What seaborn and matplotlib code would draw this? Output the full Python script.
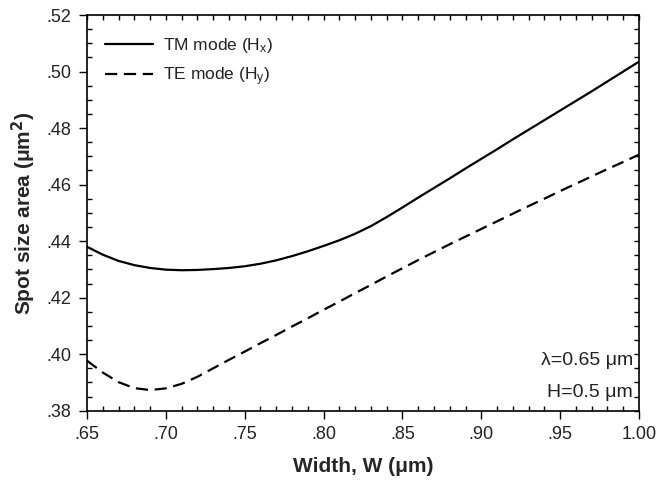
import numpy as np
import pandas as pd
import matplotlib
matplotlib.use("Agg")
import matplotlib.pyplot as plt
from matplotlib.ticker import MultipleLocator, FuncFormatter
import seaborn as sns

width = [0.65, 0.66, 0.67, 0.68, 0.69, 0.70, 0.71, 0.72, 0.73, 0.74, 0.75,
         0.76, 0.77, 0.78, 0.79, 0.80, 0.81, 0.82, 0.83, 0.84, 0.85,
         0.86, 0.87, 0.88, 0.89, 0.90, 0.91, 0.92, 0.93, 0.94, 0.95,
         0.96, 0.97, 0.98, 0.99, 1.00]
tm_mode = [0.4380, 0.4352, 0.4330, 0.4315, 0.4305, 0.4299, 0.4297, 0.4298, 0.4301, 0.4305, 0.4311,
           0.4320, 0.4332, 0.4347, 0.4364, 0.4383, 0.4403, 0.4426, 0.4453, 0.4485, 0.4519,
           0.4554, 0.4588, 0.4622, 0.4657, 0.4691, 0.4725, 0.4760, 0.4794, 0.4828, 0.4862,
           0.4896, 0.4930, 0.4965, 0.5000, 0.5035]
te_mode = [0.3977, 0.3935, 0.3901, 0.3880, 0.3873, 0.3879, 0.3895, 0.3920, 0.3950, 0.3980, 0.4009,
           0.4039, 0.4068, 0.4098, 0.4127, 0.4157, 0.4186, 0.4216, 0.4245, 0.4275, 0.4304,
           0.4333, 0.4361, 0.4389, 0.4416, 0.4443, 0.4470, 0.4497, 0.4524, 0.4550, 0.4577,
           0.4603, 0.4629, 0.4655, 0.4680, 0.4706]
labels = ["TM mode (H$_x$)", "TE mode (H$_y$)"]

sns.set_style("white")
plt.rcParams['font.family'] = ['Liberation Sans', 'DejaVu Sans']
plt.rcParams['mathtext.default'] = 'regular'

fig = plt.figure(figsize=(6.57, 4.88), dpi=100)
ax = fig.add_axes([87/657, 1-410.7/488, (639-87)/657, (410.7-15)/488])

sns.lineplot(x=width, y=tm_mode, ax=ax, color='black', lw=1.6, label=labels[0])
sns.lineplot(x=width, y=te_mode, ax=ax, color='black', lw=1.6, dashes=False,
             linestyle=(0, (5.5, 3)), label=labels[1])

ax.set_xlim(0.65, 1.00)
ax.set_ylim(0.38, 0.52)

def fmt(v, pos):
    s = f"{v:.2f}"
    return s[1:] if s.startswith("0") else s

ax.xaxis.set_major_locator(MultipleLocator(0.05))
ax.xaxis.set_minor_locator(MultipleLocator(0.01))
ax.yaxis.set_major_locator(MultipleLocator(0.02))
ax.yaxis.set_minor_locator(MultipleLocator(0.005))
ax.xaxis.set_major_formatter(FuncFormatter(fmt))
ax.yaxis.set_major_formatter(FuncFormatter(fmt))

ax.tick_params(which='major', direction='out', length=6, width=1, labelsize=13,
               color='black', labelcolor='#222222', pad=5, bottom=True, left=True)
ax.tick_params(which='minor', direction='in', length=3.5, width=1, color='black',
               bottom=True, left=True)

for s in ax.spines.values():
    s.set_color('black')
    s.set_linewidth(1.2)

# top and right inward ticks
top = ax.secondary_xaxis('top')
top.xaxis.set_major_locator(MultipleLocator(0.05))
top.xaxis.set_minor_locator(MultipleLocator(0.01))
top.tick_params(which='both', direction='in', length=3.5, width=1, labeltop=False, color='black')
top.spines['top'].set_visible(False)
right = ax.secondary_yaxis('right')
right.yaxis.set_major_locator(MultipleLocator(0.02))
right.yaxis.set_minor_locator(MultipleLocator(0.005))
right.tick_params(which='both', direction='in', length=3.5, width=1, labelright=False, color='black')
right.spines['right'].set_visible(False)

ax.set_xlabel("Width, W (μm)", fontsize=15, fontweight='bold', labelpad=10)
ax.set_ylabel("Spot size area (μm$^\\mathbf{2}$)", fontsize=15, fontweight='bold', labelpad=6)

leg = ax.legend(loc='upper left', frameon=False, fontsize=12.5, handlelength=2.76,
                handletextpad=0.57, labelspacing=0.6, borderaxespad=0,
                bbox_to_anchor=(0.02, 0.965))
for t in leg.get_texts():
    t.set_color('#222222')

ax.text(0.989, 0.126, "λ=0.65 μm", transform=ax.transAxes, ha='right', va='center',
        fontsize=14, color='#222222')
ax.text(0.989, 0.047, "H=0.5 μm", transform=ax.transAxes, ha='right', va='center',
        fontsize=14, color='#222222')

fig.savefig("out.png", dpi=100)
